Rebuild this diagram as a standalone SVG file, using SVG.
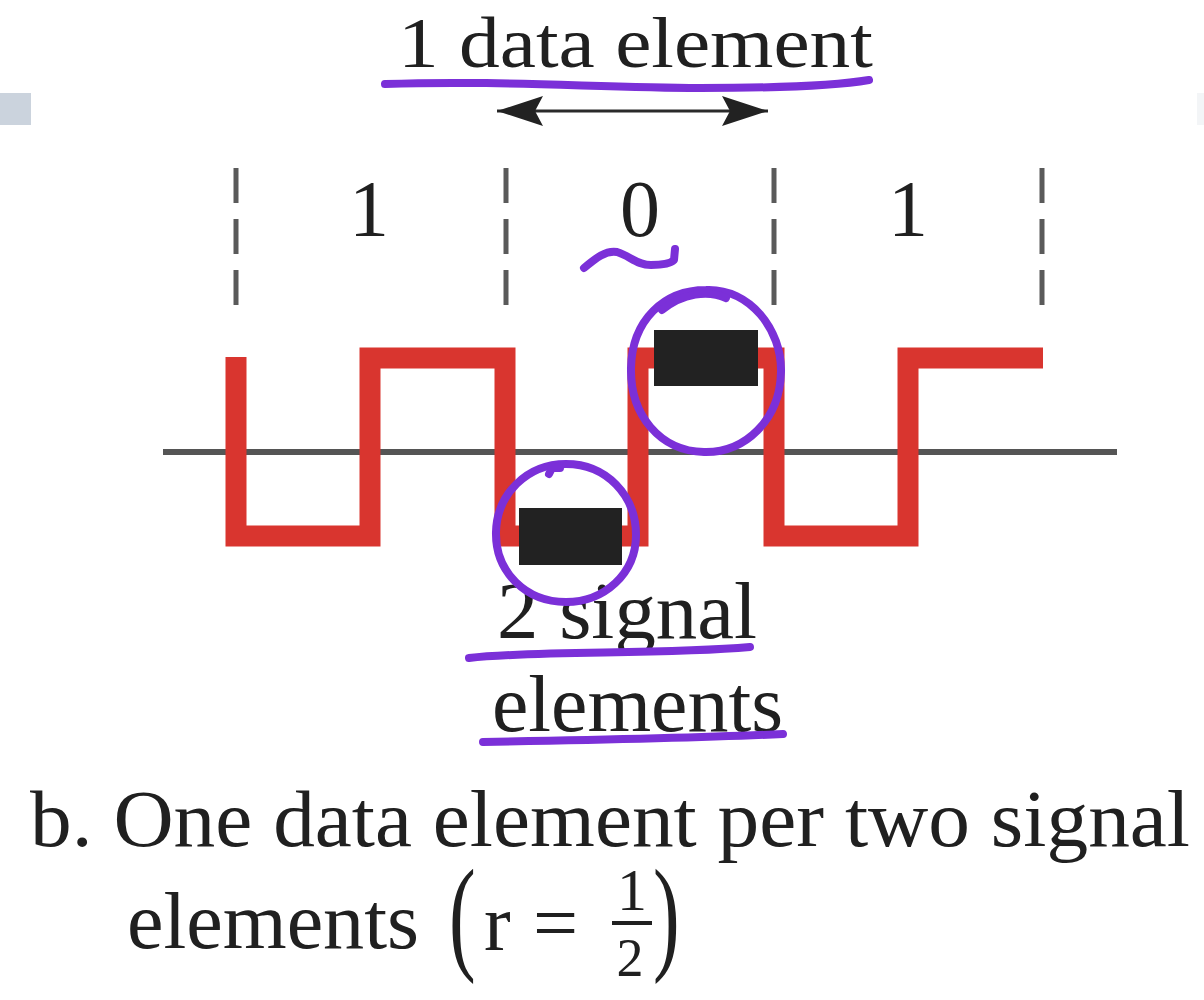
<svg xmlns="http://www.w3.org/2000/svg" width="1204" height="1000" viewBox="0 0 1204 1000">
<style>
  .t { font-family: "Liberation Serif", "Times New Roman", serif; fill: #202020; }
  .dash { stroke: #5a5a5a; stroke-width: 5; stroke-dasharray: 35 16; fill: none; }
  .pen { stroke: #7b30d8; stroke-width: 8; fill: none; stroke-linecap: round; stroke-linejoin: round; }
  .box { fill: #222222; }
</style>
<defs>
  <marker id="head" markerUnits="userSpaceOnUse" viewBox="0 0 46 30" markerWidth="46" markerHeight="30" refX="46" refY="15" orient="auto-start-reverse">
    <path d="M0,0 L46,15 L0,30 L8,15 Z" fill="#222"/>
  </marker>
</defs>
<rect width="1204" height="1000" fill="#ffffff"/>
<rect x="0" y="93" width="31" height="32" fill="#cbd3dd"/>
<rect x="1197" y="93" width="7" height="32" fill="#f3f5f7"/>

<g id="title">
  <text class="t" x="398" y="67" font-size="72" textLength="475" lengthAdjust="spacingAndGlyphs">1 data element</text>
</g>

<g id="connectors">
  <line x1="497" y1="111" x2="768" y2="111" stroke="#2a2a2a" stroke-width="3" marker-start="url(#head)" marker-end="url(#head)"/>
</g>

<g id="bit-dividers">
  <line class="dash" x1="236" y1="168" x2="236" y2="305"/>
  <line class="dash" x1="506" y1="168" x2="506" y2="305"/>
  <line class="dash" x1="774" y1="168" x2="774" y2="305"/>
  <line class="dash" x1="1042" y1="168" x2="1042" y2="305"/>
</g>

<g id="bits">
  <text class="t" x="369" y="236" font-size="80" text-anchor="middle">1</text>
  <text class="t" x="640" y="236" font-size="80" text-anchor="middle">0</text>
  <text class="t" x="908" y="236" font-size="80" text-anchor="middle">1</text>
</g>

<g id="axis">
  <line x1="163" y1="452" x2="1117" y2="452" stroke="#555" stroke-width="6"/>
</g>

<g id="signal">
  <path d="M236,357 L236,536 L370,536 L370,358 L505,358 L505,536 L638,536 L638,358 L774,358 L774,536 L908,536 L908,358 L1043,358" fill="none" stroke="#d9352f" stroke-width="21" stroke-linejoin="miter" stroke-linecap="butt"/>
</g>

<g id="signal-elements">
  <rect class="box" x="654" y="330" width="104" height="56"/>
  <rect class="box" x="519" y="508" width="103" height="57"/>
</g>

<g id="label-signal">
  <text class="t" x="497" y="638" font-size="80" textLength="260" lengthAdjust="spacingAndGlyphs">2 signal</text>
  <text class="t" x="492" y="731" font-size="80" textLength="291" lengthAdjust="spacingAndGlyphs">elements</text>
</g>

<g id="caption">
  <text class="t" x="30" y="846" font-size="80" textLength="1160" lengthAdjust="spacingAndGlyphs">b. One data element per two signal</text>
  <text class="t" x="127" y="948" font-size="80" textLength="292" lengthAdjust="spacingAndGlyphs">elements</text>
  <text class="t" transform="translate(449,957) scale(1,1.6)" font-size="80">(</text>
  <text class="t" x="484" y="950" font-size="80">r</text>
  <text class="t" x="533" y="950" font-size="80">=</text>
  <text class="t" x="632" y="910" font-size="60" text-anchor="middle">1</text>
  <rect x="612" y="921" width="40" height="4" fill="#202020"/>
  <text class="t" x="630" y="976" font-size="54" text-anchor="middle">2</text>
  <text class="t" transform="translate(653,957) scale(1,1.6)" font-size="80">)</text>
</g>

<g id="annotations">
  <path class="pen" d="M385,84 C500,80 600,88 700,88 C780,88 840,85 869,80"/>
  <path class="pen" d="M584,268 C596,258 606,250 617,252 C630,256 637,265 651,265 C662,265 671,263 674,260 L675,249"/>
  <path class="pen" d="M706,290 C750,288 782,330 781,372 C780,420 745,453 704,452 C660,451 630,415 631,368 C632,320 664,290 706,290 Z"/>
  <path class="pen" d="M662,310 C683,293 708,290 726,298"/>
  <path class="pen" d="M566,464 C606,464 636,495 636,535 C636,574 604,602 566,602 C526,602 495,572 496,532 C497,494 527,464 566,464 Z"/>
  <path class="pen" d="M549,474 L552,468 L560,468"/>
  <path class="pen" d="M469,658 C540,650 660,655 750,647"/>
  <path class="pen" d="M483,742 C600,740 700,738 783,734"/>
</g>
</svg>
